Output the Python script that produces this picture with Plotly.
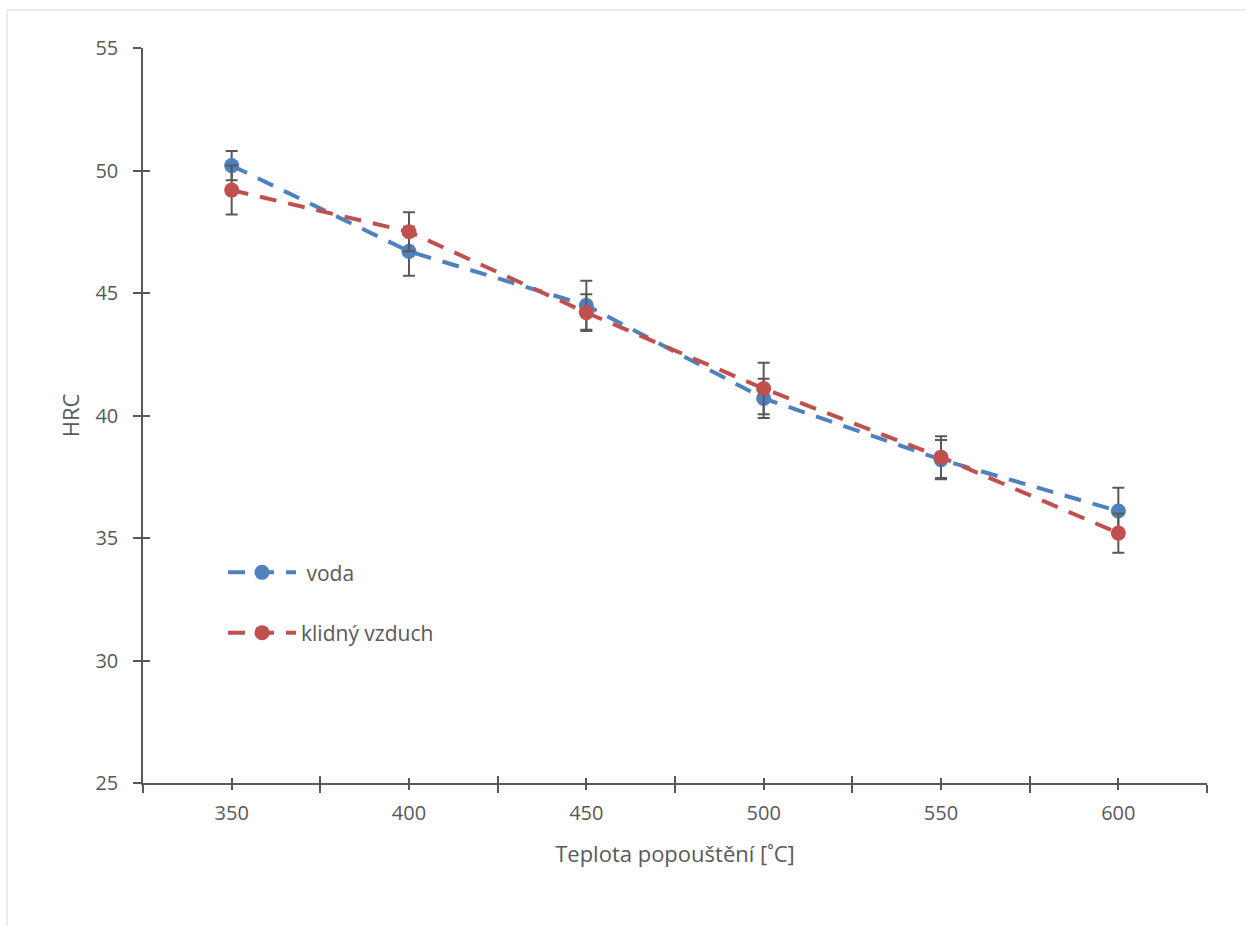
import plotly.graph_objects as go

# Tempering temperature [°C] and measured hardness HRC
teplota = [350, 400, 450, 500, 550, 600]
hrc_voda = [50.2, 46.7, 44.5, 40.7, 38.2, 36.1]
err_voda = [0.6, 1.0, 1.0, 0.8, 0.8, 0.95]
hrc_vzduch = [49.2, 47.5, 44.2, 41.1, 38.3, 35.2]
err_vzduch = [1.0, 0.8, 0.75, 1.05, 0.85, 0.8]

x_ticks = [350, 400, 450, 500, 550, 600]
x_minor = [325, 375, 425, 475, 525, 575, 625]
y_ticks = [25, 30, 35, 40, 45, 50, 55]

BLUE = "#4F81BD"
RED = "#C0504D"
AXIS = "#595959"
FONT = "Open Sans"

W, H = 1246, 926
L, R, T, B = 143, 39, 48, 143

fig = go.Figure()

def series(name, y, err, color, group):
    return go.Scatter(
        x=teplota, y=y, name=name, mode="lines+markers",
        legendgroup=group,
        line=dict(color=color, width=4, dash="17px,12px"),
        marker=dict(color=color, size=15),
        error_y=dict(type="data", array=err, visible=True,
                     color=AXIS, thickness=2, width=6),
    )

fig.add_trace(series(" voda", hrc_voda, err_voda, BLUE, "a"))
fig.add_trace(series("klidný vzduch", hrc_vzduch, err_vzduch, RED, "b"))
# empty trace so the overlay axes (inner half of the crossing ticks) exist
fig.add_trace(go.Scatter(x=[], y=[], xaxis="x2", yaxis="y2",
                         showlegend=False, hoverinfo="skip"))

tickfont = dict(family=FONT, size=20, color=AXIS)

fig.update_layout(
    width=W, height=H,
    margin=dict(l=L, r=R, t=T, b=B),
    paper_bgcolor="white", plot_bgcolor="white",
    font=dict(family=FONT, color=AXIS),
    xaxis=dict(
        range=[325, 625], tickvals=x_ticks, ticks="outside", ticklen=5,
        tickwidth=1.5, tickcolor=AXIS, showline=True, linecolor=AXIS,
        linewidth=1.5, showgrid=False, zeroline=False, tickfont=tickfont,
        ticklabelstandoff=6,
        minor=dict(tickvals=x_minor, ticks="outside", ticklen=8,
                   tickwidth=1.5, tickcolor=AXIS),
        title=dict(text="Teplota popouštění [˚C]",
                   font=dict(family=FONT, size=22, color=AXIS), standoff=22),
    ),
    yaxis=dict(
        range=[25, 55], tickvals=y_ticks, ticks="outside", ticklen=8,
        tickwidth=1.5, tickcolor=AXIS, showline=True, linecolor=AXIS,
        linewidth=1.5, showgrid=False, zeroline=False, tickfont=tickfont,
        ticklabelstandoff=11,
        title=dict(text="HRC", font=dict(family=FONT, size=22, color=AXIS),
                   standoff=10),
    ),
    xaxis2=dict(
        overlaying="x", matches="x", anchor="y2", side="bottom",
        range=[325, 625], tickvals=x_ticks, ticks="inside", ticklen=5,
        tickwidth=1.5, tickcolor=AXIS, showticklabels=False, showline=False,
        showgrid=False, zeroline=False,
        minor=dict(tickvals=x_minor, ticks="inside", ticklen=7,
                   tickwidth=1.5, tickcolor=AXIS),
    ),
    yaxis2=dict(
        overlaying="y", matches="y", anchor="x2", side="left",
        range=[25, 55], tickvals=y_ticks, ticks="inside", ticklen=7,
        tickwidth=1.5, tickcolor=AXIS, showticklabels=False, showline=False,
        showgrid=False, zeroline=False,
    ),
    legend=dict(
        x=0.0752, y=0.314, xanchor="left", yanchor="top",
        bgcolor="rgba(0,0,0,0)", traceorder="grouped", tracegroupgap=30,
        itemwidth=68,
        font=dict(family=FONT, size=21, color=AXIS),
    ),
    showlegend=True,
)

# light chart-area frame
pw, ph = W - L - R, H - T - B
fig.add_shape(type="rect", xref="paper", yref="paper",
              x0=(7 - L) / pw, x1=(W + 5 - L) / pw,
              y0=-(H + 5 - T - ph) / ph,
              y1=(T + ph - 10) / ph,
              line=dict(color="#D9D9D9", width=1), fillcolor="rgba(0,0,0,0)",
              layer="below")

fig.write_html("out.html")
